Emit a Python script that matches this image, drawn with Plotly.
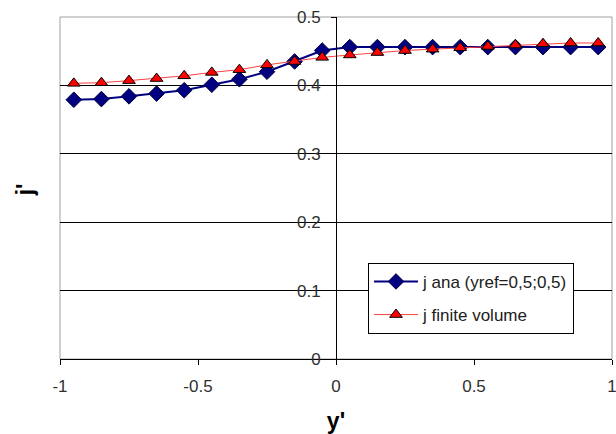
import plotly.graph_objects as go

y_pos = [-0.95, -0.85, -0.75, -0.65, -0.55, -0.45, -0.35, -0.25, -0.15, -0.05,
         0.05, 0.15, 0.25, 0.35, 0.45, 0.55, 0.65, 0.75, 0.85, 0.95]
j_ana = [0.379, 0.380, 0.384, 0.388, 0.393, 0.401, 0.409, 0.420, 0.435, 0.451,
         0.456, 0.456, 0.456, 0.456, 0.456, 0.456, 0.456, 0.456, 0.456, 0.456]
j_fv = [0.403, 0.404, 0.407, 0.410, 0.414, 0.419, 0.423, 0.430, 0.435, 0.441,
        0.4445, 0.448, 0.451, 0.453, 0.455, 0.457, 0.459, 0.461, 0.462, 0.462]
x_ticks = [-1, -0.5, 0, 0.5, 1]
x_tick_text = ["-1", "-0.5", "0", "0.5", "1"]
y_ticks = [0, 0.1, 0.2, 0.3, 0.4, 0.5]
y_tick_text = ["0", "0.1", "0.2", "0.3", "0.4", "0.5"]
names = ["j ana (yref=0,5;0,5)", "j finite volume"]

fig = go.Figure()
fig.add_trace(go.Scatter(
    x=y_pos, y=j_ana, mode="lines+markers", name=names[0],
    legendgroup="a",
    line=dict(color="#000080", width=2),
    marker=dict(symbol="diamond", size=12, color="#000080",
                line=dict(color="#000040", width=1)),
))
fig.add_trace(go.Scatter(
    x=y_pos, y=j_fv, mode="lines+markers", name=names[1],
    legendgroup="b",
    line=dict(color="#FF4040", width=1),
    marker=dict(symbol="triangle-up", size=11, color="#FF0000",
                line=dict(color="#000000", width=1)),
))

fig.add_shape(type="rect", xref="x domain", yref="y domain",
              x0=0, x1=1, y0=0, y1=1, line=dict(color="#A0A0A0", width=1),
              layer="below")

font = dict(family="Liberation Sans, Arial, sans-serif", size=17, color="#000000")

fig.update_layout(
    width=616, height=434,
    margin=dict(l=60, r=4, t=17, b=75, autoexpand=False),
    paper_bgcolor="white", plot_bgcolor="white",
    font=font,
    showlegend=True,
    legend=dict(x=0.558, y=0.281, xanchor="left", yanchor="top",
                bgcolor="white", bordercolor="#000000", borderwidth=1,
                tracegroupgap=8, font=dict(size=17, color="#202020"),
                itemwidth=44),
    xaxis=dict(range=[-1, 1], tickvals=x_ticks, ticktext=x_tick_text,
               showgrid=False, zeroline=False, automargin=False,
               showline=True, linecolor="#000000", linewidth=1,
               ticks="outside", ticklen=5, tickcolor="#000000",
               ticklabelstandoff=7, ticklabeloverflow="allow",
               tickfont=dict(color="#303030"),
               title=dict(text="<b>y'</b>", font=dict(size=23), standoff=22)),
    yaxis=dict(range=[0, 0.5], tickvals=y_ticks, ticktext=y_tick_text,
               showgrid=True, gridcolor="#000000", gridwidth=1,
               zeroline=False, anchor="free", position=0.5, automargin=False,
               showline=True, linecolor="#000000", linewidth=1,
               ticks="outside", ticklen=5, tickcolor="#000000",
               ticklabelstandoff=7, ticklabeloverflow="allow",
               tickfont=dict(color="#303030")),
    annotations=[dict(text="<b>j'</b>", xref="paper", yref="paper",
                      x=-0.063, y=0.494, xanchor="center", yanchor="middle",
                      showarrow=False, textangle=-90,
                      font=dict(size=23))],
)

fig.write_html("out.html", config={"displayModeBar": False},
               post_script="document.body.style.margin='0';document.body.style.overflow='hidden';")
